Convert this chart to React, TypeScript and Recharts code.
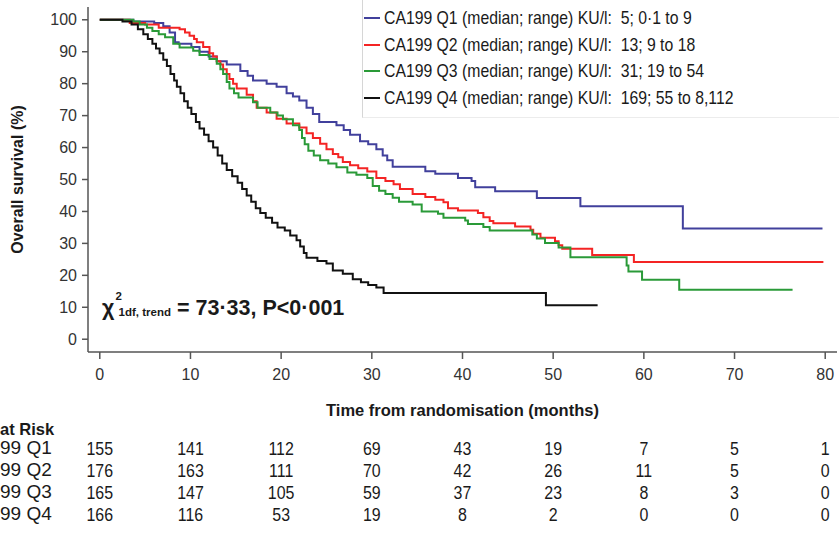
import { LineChart, Line, XAxis, YAxis, Legend } from 'recharts';

const monthTicks = [0, 10, 20, 30, 40, 50, 60, 70, 80];
const survivalTicks = [0, 10, 20, 30, 40, 50, 60, 70, 80, 90, 100];

// Kaplan-Meier steps: [month, survival %]
const q1Steps: [number, number][] = [
  [0, 100], [3.7, 99.5], [6, 99], [7, 98], [7.7, 96], [8.3, 93], [8.7, 92.5], [10.1, 91.5], [11, 90],
  [12, 88.5], [12.9, 87], [14, 86], [15.5, 84], [16.3, 82.5], [16.9, 81], [18.4, 80], [19.5, 79],
  [20.6, 77], [21.3, 76], [22, 74.7], [22.8, 72.5], [23.5, 70.5], [24.2, 68], [26.1, 67], [26.9, 65.5],
  [27.6, 64], [28.7, 62], [29.6, 61], [30.5, 59.5], [31.2, 57.5], [31.7, 56], [32.3, 54], [35.9, 52.6],
  [37, 51.8], [39.5, 50.5], [41, 49.5], [41.4, 47.6], [43.6, 46.3], [48.2, 44.2], [53, 41.6],
  [64.3, 34.7], [79.7, 34.7],
];
const q2Steps: [number, number][] = [
  [0, 100], [3.3, 99], [5, 98.5], [6.5, 97.5], [8.8, 97], [9.4, 96], [9.9, 95], [10.4, 94], [10.7, 93],
  [11.4, 91.5], [12.1, 89.5], [12.5, 88.5], [12.9, 87], [13.3, 86], [13.6, 84.5], [14, 83], [14.3, 81.5],
  [14.7, 80], [15.1, 78.5], [16.2, 76.5], [16.9, 74.5], [17.3, 72.5], [18.4, 71], [19.5, 69], [20.6, 67.5],
  [22, 66.3], [22.8, 64.5], [23.5, 63], [24.3, 61.2], [25, 59.5], [25.7, 58], [26.3, 57], [26.8, 55.5],
  [27.6, 54.5], [28.5, 53.5], [29.5, 52.5], [30.5, 50.5], [31.5, 49.5], [32.4, 48.5], [33.1, 47],
  [34.5, 45.5], [35.9, 44.5], [37, 43.7], [37.9, 42.9], [38.4, 41], [39.5, 40.3], [41.7, 39.5],
  [42.3, 38.2], [43, 37], [43.4, 36.3], [45.8, 35.3], [47.5, 34.3], [47.8, 33], [48.6, 31.8],
  [50.2, 30.7], [50.6, 29.4], [51, 28.3], [54.3, 26.4], [58.9, 24.2], [79.8, 24.2],
];
const q3Steps: [number, number][] = [
  [0, 100], [3.7, 99.5], [4.4, 98.5], [5.2, 97.5], [5.8, 96.5], [6.5, 95.5], [7.2, 94.5], [8.1, 92.5],
  [8.8, 91.3], [10.3, 90.3], [11, 89], [12.1, 87.7], [12.9, 86.2], [13.3, 84.5], [13.6, 83], [14, 80.5],
  [14.3, 78.5], [14.8, 77], [15.3, 75.7], [16.9, 74.2], [17.4, 72.5], [18.8, 71], [19.6, 70], [20.2, 68.9],
  [21.3, 67], [22, 65.5], [22.3, 63], [22.6, 61], [23, 59], [23.6, 57.5], [24.3, 56], [25.2, 55],
  [26.1, 53.8], [27.3, 52.2], [28.3, 51.5], [29.5, 50.5], [30.1, 48], [30.8, 46.5], [31.5, 45.5],
  [32.3, 44.3], [33, 43], [34.5, 42.2], [35.5, 40], [37.3, 39.3], [37.9, 38], [40.3, 37.2], [40.6, 36.1],
  [42.3, 35.1], [43, 34], [47.7, 32.8], [48.2, 31.5], [49.1, 30.1], [50.6, 28.7], [51.9, 25.7],
  [58.1, 23.1], [58.3, 21.2], [59.8, 18.6], [63.9, 15.5], [76.4, 15.5],
];
const q4Steps: [number, number][] = [
  [0, 100], [2.5, 99.5], [3.5, 98.5], [4.2, 97], [4.8, 95.5], [5.3, 94], [5.8, 92.5], [6.2, 91],
  [6.6, 89.5], [7, 87.5], [7.4, 85.5], [7.8, 83], [8.2, 81], [8.5, 79], [8.9, 77], [9.3, 74.5],
  [9.7, 72.5], [10.1, 70.5], [10.6, 68], [11, 66], [11.5, 64], [12, 62], [12.5, 60], [13, 57.5],
  [13.5, 55], [14, 53], [14.6, 51], [15.2, 49], [15.7, 47], [16.2, 45], [16.7, 43], [17.2, 41],
  [17.7, 39.5], [18.3, 38], [19, 36.5], [19.6, 35], [20.4, 34], [21, 32.5], [21.7, 31], [22.1, 29],
  [22.5, 27], [22.8, 25.5], [24, 24.5], [25, 23.7], [25.7, 21.5], [26.8, 20.5], [27.9, 18.8],
  [28.8, 17.8], [29.6, 17], [30.5, 16.2], [31.3, 14.5], [49.2, 10.6], [54.9, 10.6],
];

const riskQ1 = [155, 141, 112, 69, 43, 19, 7, 5, 1];
const riskQ2 = [176, 163, 111, 70, 42, 26, 11, 5, 0];
const riskQ3 = [165, 147, 105, 59, 37, 23, 8, 3, 0];
const riskQ4 = [166, 116, 53, 19, 8, 2, 0, 0, 0];

const groupNames = ['CA199 Q1', 'CA199 Q2', 'CA199 Q3', 'CA199 Q4'];
const groupRanges = ['5; 0·1 to 9', '13; 9 to 18', '31; 19 to 54', '169; 55 to 8,112'];
const rowLabels = ['99 Q1', '99 Q2', '99 Q3', '99 Q4'];
const colors = ['#41409c', '#f42424', '#2a9a38', '#111111'];

const FONT = '"Liberation Sans", Arial, sans-serif';

const toRows = (steps: [number, number][]) => steps.map(([t, s]) => ({ t, s }));
const series = [q1Steps, q2Steps, q3Steps, q4Steps].map(toRows);
const riskRows = [riskQ1, riskQ2, riskQ3, riskQ4];

// month label plus the numbers at risk underneath, all on the x scale
function MonthTick(props: any) {
  const { x, y, payload } = props;
  const i = monthTicks.indexOf(payload.value);
  return (
    <g>
      <text x={x} y={y} dy="0.71em" textAnchor="middle" fontSize={16} fontFamily={FONT} fill="#333">
        {payload.value}
      </text>
      {riskRows.map((vals, r) => (
        <text
          key={r}
          x={x}
          y={y + 73 + r * 22}
          dy="0.71em"
          textAnchor="middle"
          fontSize={19}
          fontFamily={FONT}
          fill="#1a1a1a"
          transform={`translate(${x} 0) scale(0.84 1) translate(${-x} 0)`}
        >
          {vals[i]}
        </text>
      ))}
    </g>
  );
}

function LegendBox() {
  return (
    <div
      style={{
        width: 477,
        height: 118,
        boxSizing: 'border-box',
        background: '#fff',
        borderLeft: '1px solid #d6d6d6',
        borderBottom: '1px solid #ececec',
        paddingTop: 5,
        fontFamily: FONT,
      }}
    >
      {groupNames.map((name, i) => (
        <div key={name} style={{ height: 26.6, display: 'flex', alignItems: 'center' }}>
          <div style={{ width: 16, height: 2, background: colors[i], marginLeft: 1, marginRight: 4 }} />
          <div
            style={{
              fontSize: 19,
              color: '#1a1a1a',
              whiteSpace: 'pre',
              transform: 'scaleX(0.83)',
              transformOrigin: 'left center',
            }}
          >
            {`${name} (median; range) KU/l:  ${groupRanges[i]}`}
          </div>
        </div>
      ))}
    </div>
  );
}

export default function App() {
  return (
    <div style={{ position: 'absolute', left: 0, top: 0, width: 839, height: 538, background: '#fff', fontFamily: FONT }}>
      <LineChart width={839} height={538} margin={{ top: 7, right: 2, bottom: 13, left: 0 }}>
        <XAxis
          xAxisId="main"
          dataKey="t"
          type="number"
          domain={[-1.3, 81.3]}
          allowDataOverflow
          ticks={monthTicks}
          interval={0}
          height={173}
          tickSize={7}
          tickMargin={10}
          stroke="#555"
          strokeWidth={1.5}
          tick={<MonthTick />}
          label={{
            value: 'Time from randomisation (months)',
            position: 'insideTop',
            offset: 52,
            style: { fontSize: 16.5, fontWeight: 'bold', fill: '#1a1a1a', fontFamily: FONT },
          }}
        />
        <YAxis
          type="number"
          domain={[-4, 104]}
          allowDataOverflow
          ticks={survivalTicks}
          interval={0}
          width={88}
          tickSize={6}
          tickMargin={5}
          stroke="#555"
          strokeWidth={1.5}
          tick={{ fontSize: 16, fill: '#333', fontFamily: FONT }}
          label={{
            value: 'Overall survival (%)',
            angle: -90,
            position: 'insideLeft',
            offset: 17,
            style: { textAnchor: 'middle', fontSize: 16, fontWeight: 'bold', fill: '#1a1a1a', fontFamily: FONT },
          }}
        />
        <Legend
          layout="vertical"
          align="center"
          verticalAlign="middle"
          content={() => <LegendBox />}
          wrapperStyle={{ left: 362, top: 0, width: 477, height: 118 }}
        />
        {series.map((rows, i) => (
          <Line
            key={groupNames[i]}
            xAxisId="main"
            data={rows}
            dataKey="s"
            name={groupNames[i]}
            type="stepAfter"
            stroke={colors[i]}
            strokeWidth={2}
            dot={false}
            activeDot={false}
            isAnimationActive={false}
          />
        ))}
      </LineChart>

      <div
        style={{
          position: 'absolute',
          left: 102,
          top: 291,
          fontWeight: 'bold',
          fontSize: 21.5,
          color: '#1a1a1a',
          display: 'flex',
          alignItems: 'flex-end',
          whiteSpace: 'pre',
        }}
      >
        <span>χ</span>
        <span
          style={{
            display: 'inline-flex',
            flexDirection: 'column',
            fontSize: 11.5,
            lineHeight: '11px',
            gap: 5,
            marginLeft: 1,
            marginBottom: 3,
          }}
        >
          <span>2</span>
          <span>{' 1df, trend'}</span>
        </span>
        <span>{' = 73·33, P<0·001'}</span>
      </div>

      <div style={{ position: 'absolute', left: 0, top: 420, fontSize: 16.5, fontWeight: 'bold', color: '#1a1a1a' }}>at Risk</div>
      {rowLabels.map((label, i) => (
        <div
          key={label}
          style={{
            position: 'absolute',
            left: 0,
            top: 437 + i * 22,
            fontSize: 19,
            color: '#1a1a1a',
            whiteSpace: 'pre',
          }}
        >
          {label}
        </div>
      ))}
    </div>
  );
}
